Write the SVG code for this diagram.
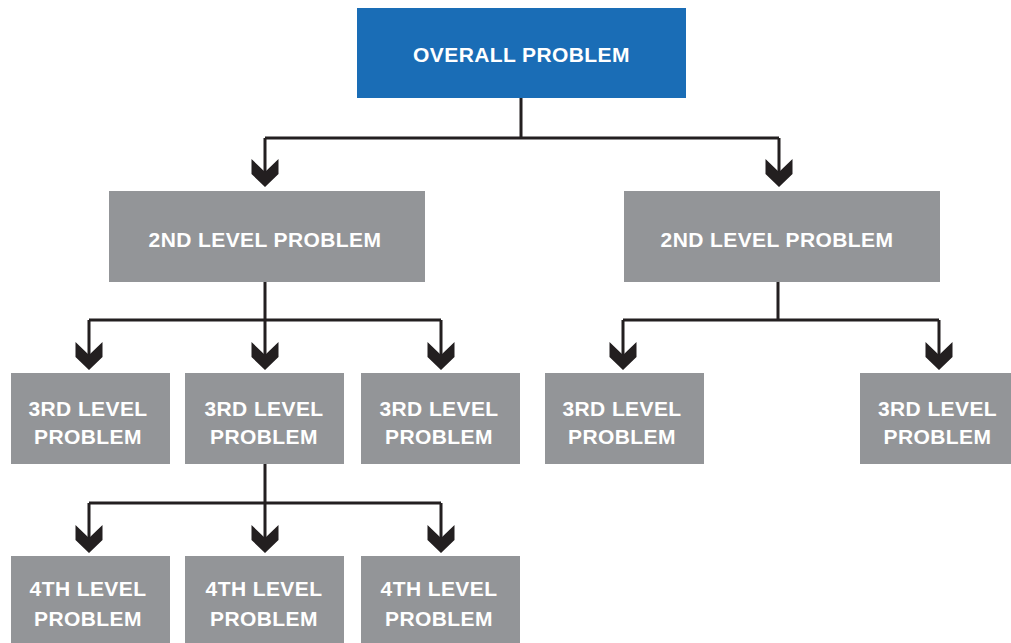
<svg xmlns="http://www.w3.org/2000/svg" xmlns:xlink="http://www.w3.org/1999/xlink" width="1011" height="643" viewBox="0 0 1011 643">
<style>
.top{fill:#1a6db6}
.box{fill:#939598}
.t{font-family:"Liberation Sans",Arial,sans-serif;font-weight:bold;font-size:21px;fill:#ffffff;text-anchor:middle;letter-spacing:0.4px}
.ln{fill:none;stroke:#231f20;stroke-width:3}
.ah{fill:#231f20}
</style>
<defs>
<path id="arr" d="M-13.5,-28 L0,-15 L13.5,-28 L13.5,-13 L0,0 L-13.5,-13 Z"/>
</defs>
<rect width="1011" height="643" fill="#ffffff"/>
<g id="connectors">
<path class="ln" d="M521,98 V138 M265,138 H779 M265,138 V172 M779,138 V172"/>
<path class="ln" d="M265,282 V320 M89,320 H441 M89,320 V356 M265,320 V356 M441,320 V356"/>
<path class="ln" d="M778,282 V320 M623,320 H939 M623,320 V356 M939,320 V356"/>
<path class="ln" d="M265,464 V503 M89,503 H441 M89,503 V539 M265,503 V539 M441,503 V539"/>
<g class="ah">
<use xlink:href="#arr" x="265" y="187"/>
<use xlink:href="#arr" x="779" y="187"/>
<use xlink:href="#arr" x="89" y="370"/>
<use xlink:href="#arr" x="265" y="370"/>
<use xlink:href="#arr" x="441" y="370"/>
<use xlink:href="#arr" x="623" y="370"/>
<use xlink:href="#arr" x="939" y="370"/>
<use xlink:href="#arr" x="89" y="553"/>
<use xlink:href="#arr" x="265" y="553"/>
<use xlink:href="#arr" x="441" y="553"/>
</g>
</g>
<g id="overall">
<rect class="top" x="357" y="8" width="329" height="90"/>
<text class="t" x="521.5" y="62">OVERALL PROBLEM</text>
</g>
<g id="l2a">
<rect class="box" x="109" y="191" width="316" height="91"/>
<text class="t" x="265" y="247">2ND LEVEL PROBLEM</text>
</g>
<g id="l2b">
<rect class="box" x="624" y="191" width="316" height="91"/>
<text class="t" x="777" y="247">2ND LEVEL PROBLEM</text>
</g>
<g id="l3a">
<rect class="box" x="11" y="373" width="159" height="91"/>
<text class="t" x="88" y="416">3RD LEVEL</text>
<text class="t" x="88" y="444">PROBLEM</text>
</g>
<g id="l3b">
<rect class="box" x="185" y="373" width="159" height="91"/>
<text class="t" x="264" y="416">3RD LEVEL</text>
<text class="t" x="264" y="444">PROBLEM</text>
</g>
<g id="l3c">
<rect class="box" x="361" y="373" width="159" height="91"/>
<text class="t" x="439" y="416">3RD LEVEL</text>
<text class="t" x="439" y="444">PROBLEM</text>
</g>
<g id="l3d">
<rect class="box" x="545" y="373" width="159" height="91"/>
<text class="t" x="622" y="416">3RD LEVEL</text>
<text class="t" x="622" y="444">PROBLEM</text>
</g>
<g id="l3e">
<rect class="box" x="860" y="373" width="151" height="91"/>
<text class="t" x="937.5" y="416">3RD LEVEL</text>
<text class="t" x="937.5" y="444">PROBLEM</text>
</g>
<g id="l4a">
<rect class="box" x="11" y="556" width="159" height="87"/>
<text class="t" x="88" y="596">4TH LEVEL</text>
<text class="t" x="88" y="626">PROBLEM</text>
</g>
<g id="l4b">
<rect class="box" x="185" y="556" width="159" height="87"/>
<text class="t" x="264" y="596">4TH LEVEL</text>
<text class="t" x="264" y="626">PROBLEM</text>
</g>
<g id="l4c">
<rect class="box" x="361" y="556" width="159" height="87"/>
<text class="t" x="439" y="596">4TH LEVEL</text>
<text class="t" x="439" y="626">PROBLEM</text>
</g>
</svg>
